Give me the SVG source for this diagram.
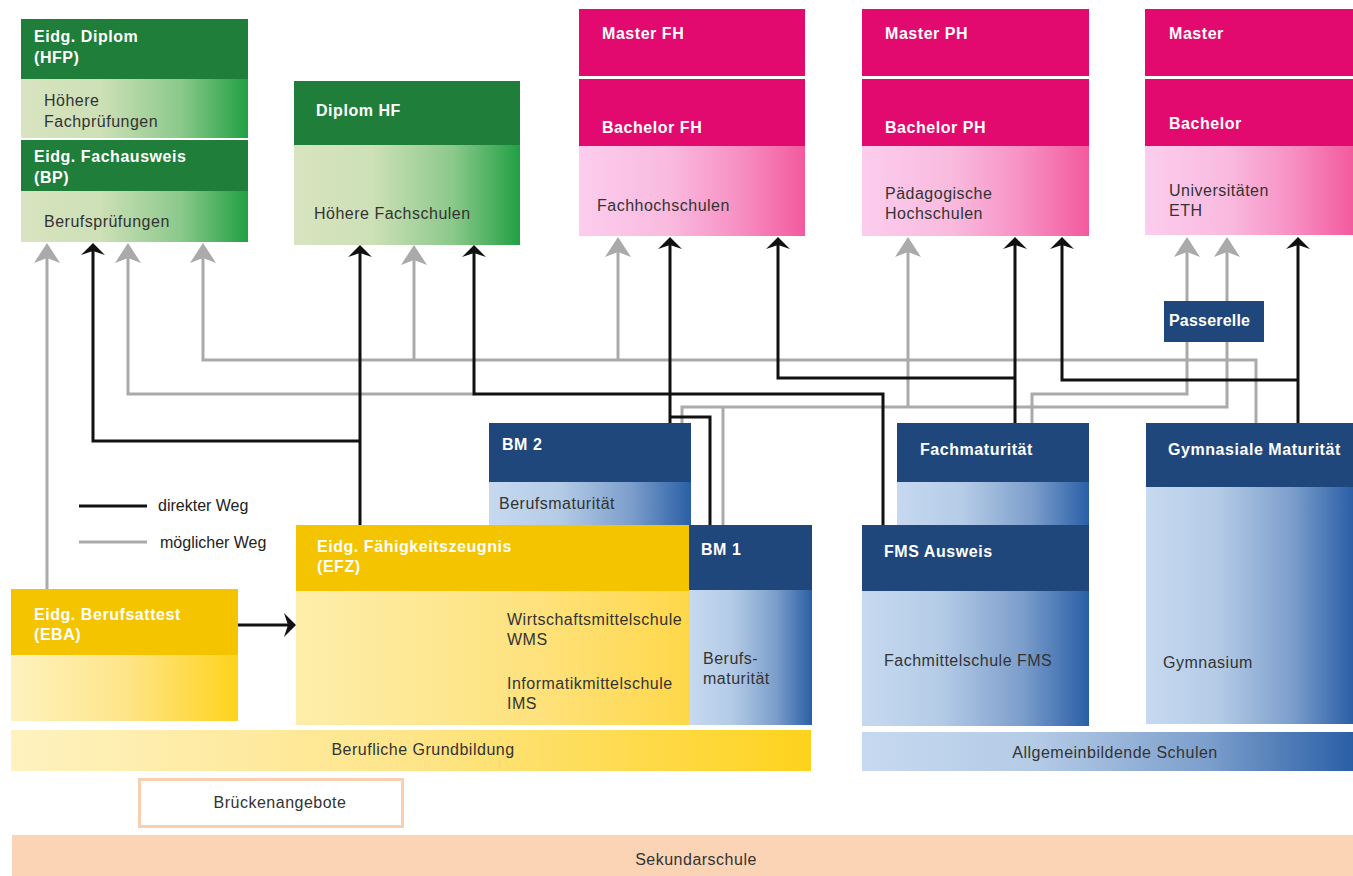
<svg xmlns="http://www.w3.org/2000/svg" width="1353" height="876" viewBox="0 0 1353 876">
<style>
text{font-family:"Liberation Sans",Arial,sans-serif;font-size:16px;letter-spacing:0.5px}
.t{fill:#fff;font-weight:bold;letter-spacing:0.55px}
.b{fill:#333}
.c{text-anchor:middle}
.lg{fill:#222;letter-spacing:0}
.hg{fill:#1f7e3a}.hm{fill:#e20a6e}.hb{fill:#1f477b}.hy{fill:#f5c400}
.gl{fill:none;stroke:#aaa;stroke-width:3}
.bl{fill:none;stroke:#111;stroke-width:3}
.ga{marker-end:url(#ahg)}.ba{marker-end:url(#ahb)}
</style>
<defs>
<linearGradient id="gG"><stop offset="0" stop-color="#d8e4c0"/><stop offset="0.35" stop-color="#cde0b6"/><stop offset="0.7" stop-color="#8cc98b"/><stop offset="1" stop-color="#21a045"/></linearGradient>
<linearGradient id="gP"><stop offset="0" stop-color="#fccdee"/><stop offset="0.4" stop-color="#f9bade"/><stop offset="0.7" stop-color="#f791c4"/><stop offset="1" stop-color="#f35a9e"/></linearGradient>
<linearGradient id="gB"><stop offset="0" stop-color="#c6d9f0"/><stop offset="0.35" stop-color="#b4cbe6"/><stop offset="0.7" stop-color="#7d9fcc"/><stop offset="1" stop-color="#2a5fa6"/></linearGradient>
<linearGradient id="gY"><stop offset="0" stop-color="#fef2bf"/><stop offset="0.5" stop-color="#fee58a"/><stop offset="1" stop-color="#fed31c"/></linearGradient>
<linearGradient id="gY2"><stop offset="0" stop-color="#fdeeab"/><stop offset="0.6" stop-color="#fee27e"/><stop offset="1" stop-color="#fed84a"/></linearGradient>
<marker id="ahb" viewBox="-6 -14 16 28" refX="0" refY="0" markerWidth="16" markerHeight="28" markerUnits="userSpaceOnUse" orient="auto"><path d="M8,0 L-4,-12 L0,0 L-4,12 Z" fill="#111"/></marker>
<marker id="ahg" viewBox="-6 -14 22 28" refX="0" refY="0" markerWidth="22" markerHeight="28" markerUnits="userSpaceOnUse" orient="auto"><path d="M15,0 L-5,-13 L0,0 L-5,13 Z" fill="#aaa"/></marker>
</defs>
<rect width="1353" height="876" fill="#fff"/>

<g id="connectors">
<path class="gl ga" d="M47,589 V258"/>
<path class="gl ga" d="M1256,423 V360 H203 V258"/>
<path class="gl ga" d="M414,360 V260"/>
<path class="gl ga" d="M618,360 V252"/>
<path class="gl ga" d="M474,394 H128 V258"/>
<path class="gl ga" d="M682,423 V407 H1227 V252"/>
<path class="gl" d="M723,525 V407"/>
<path class="gl ga" d="M908,407 V252"/>
<path class="gl ga" d="M1032,423 V394 H1187 V252"/>
<path class="bl ba" d="M360,525 V253"/>
<path class="bl ba" d="M360,441 H93 V251"/>
<path class="bl ba" d="M883,525 V394 H474 V253"/>
<path class="bl ba" d="M670,423 V245"/>
<path class="bl" d="M670,417 H710 V525"/>
<path class="bl ba" d="M1015,423 V245"/>
<path class="bl ba" d="M1015,378 H778 V245"/>
<path class="bl ba" d="M1298,423 V245"/>
<path class="bl ba" d="M1298,380 H1062 V245"/>
<path class="bl ba" d="M238,625 H288"/>
</g>

<g id="hfp">
<rect class="hg" x="21" y="19" width="227" height="60"/>
<rect x="21" y="79" width="227" height="59" fill="url(#gG)"/>
<text class="t" x="34" y="42">Eidg. Diplom</text>
<text class="t" x="34" y="63">(HFP)</text>
<text class="b" x="44" y="106">Höhere</text>
<text class="b" x="44" y="127">Fachprüfungen</text>
</g>
<g id="bp">
<rect class="hg" x="21" y="140" width="227" height="51"/>
<rect x="21" y="191" width="227" height="51" fill="url(#gG)"/>
<text class="t" x="34" y="162">Eidg. Fachausweis</text>
<text class="t" x="34" y="183">(BP)</text>
<text class="b" x="44" y="227">Berufsprüfungen</text>
</g>
<g id="hf">
<rect class="hg" x="294" y="81" width="226" height="64"/>
<rect x="294" y="145" width="226" height="100" fill="url(#gG)"/>
<text class="t" x="316" y="116">Diplom HF</text>
<text class="b" x="314" y="219">Höhere Fachschulen</text>
</g>
<g id="fh">
<rect class="hm" x="579" y="9" width="226" height="67"/>
<rect class="hm" x="579" y="79" width="226" height="67"/>
<rect x="579" y="146" width="226" height="90" fill="url(#gP)"/>
<text class="t" x="602" y="39">Master FH</text>
<text class="t" x="602" y="133">Bachelor FH</text>
<text class="b" x="597" y="211">Fachhochschulen</text>
</g>
<g id="ph">
<rect class="hm" x="862" y="9" width="227" height="67"/>
<rect class="hm" x="862" y="79" width="227" height="67"/>
<rect x="862" y="146" width="227" height="90" fill="url(#gP)"/>
<text class="t" x="885" y="39">Master PH</text>
<text class="t" x="885" y="133">Bachelor PH</text>
<text class="b" x="885" y="199">Pädagogische</text>
<text class="b" x="885" y="219">Hochschulen</text>
</g>
<g id="uni">
<rect class="hm" x="1145" y="9" width="208" height="67"/>
<rect class="hm" x="1145" y="79" width="208" height="67"/>
<rect x="1145" y="146" width="208" height="89" fill="url(#gP)"/>
<text class="t" x="1169" y="39">Master</text>
<text class="t" x="1169" y="129">Bachelor</text>
<text class="b" x="1169" y="196">Universitäten</text>
<text class="b" x="1169" y="216">ETH</text>
</g>
<g id="passerelle">
<rect class="hb" x="1164" y="301" width="100" height="41"/>
<text class="t" x="1169" y="326" style="letter-spacing:0.2px">Passerelle</text>
</g>
<g id="bm2">
<rect class="hb" x="489" y="423" width="202" height="59"/>
<rect x="489" y="482" width="202" height="43" fill="url(#gB)"/>
<text class="t" x="502" y="450">BM 2</text>
<text class="b" x="499" y="509">Berufsmaturität</text>
</g>
<g id="efz">
<rect class="hy" x="296" y="525" width="393" height="66"/>
<rect x="296" y="591" width="393" height="134" fill="url(#gY2)"/>
<text class="t" x="317" y="552">Eidg. Fähigkeitszeugnis</text>
<text class="t" x="317" y="572">(EFZ)</text>
<text class="b" x="507" y="625">Wirtschaftsmittelschule</text>
<text class="b" x="507" y="645">WMS</text>
<text class="b" x="507" y="689">Informatikmittelschule</text>
<text class="b" x="507" y="709">IMS</text>
</g>
<g id="bm1">
<rect class="hb" x="689" y="525" width="123" height="65"/>
<rect x="689" y="590" width="123" height="135" fill="url(#gB)"/>
<text class="t" x="701" y="555">BM 1</text>
<text class="b" x="703" y="664">Berufs-</text>
<text class="b" x="703" y="684">maturität</text>
</g>
<g id="eba">
<rect class="hy" x="11" y="589" width="227" height="66"/>
<rect x="11" y="655" width="227" height="66" fill="url(#gY)"/>
<text class="t" x="34" y="620">Eidg. Berufsattest</text>
<text class="t" x="34" y="640">(EBA)</text>
</g>
<g id="fachmaturitaet">
<rect class="hb" x="897" y="423" width="192" height="59"/>
<rect x="897" y="482" width="192" height="43" fill="url(#gB)"/>
<text class="t" x="920" y="455">Fachmaturität</text>
</g>
<g id="fms">
<rect class="hb" x="862" y="525" width="227" height="66"/>
<rect x="862" y="591" width="227" height="135" fill="url(#gB)"/>
<text class="t" x="884" y="557">FMS Ausweis</text>
<text class="b" x="884" y="666">Fachmittelschule FMS</text>
</g>
<g id="gymnasium">
<rect class="hb" x="1146" y="423" width="207" height="64"/>
<rect x="1146" y="487" width="207" height="237" fill="url(#gB)"/>
<text class="t" x="1168" y="455">Gymnasiale Maturität</text>
<text class="b" x="1163" y="668">Gymnasium</text>
</g>
<g id="grundbildung">
<rect x="11" y="730" width="800" height="41" fill="url(#gY)"/>
<text class="b c" x="423" y="755">Berufliche Grundbildung</text>
</g>
<g id="allgemein">
<rect x="862" y="732" width="491" height="39" fill="url(#gB)"/>
<text class="b c" x="1115" y="758">Allgemeinbildende Schulen</text>
</g>
<g id="bruecken">
<rect x="139.5" y="779.5" width="263" height="47" fill="#fff" stroke="#f9cfb0" stroke-width="3"/>
<text class="b c" x="280" y="808">Brückenangebote</text>
</g>
<g id="sekundar">
<rect x="12" y="835" width="1341" height="41" fill="#fbd4b6"/>
<text class="b c" x="696" y="865">Sekundarschule</text>
</g>
<g id="legend">
<line x1="79" y1="506" x2="147" y2="506" stroke="#111" stroke-width="3"/>
<text class="lg" x="158" y="511">direkter Weg</text>
<line x1="79" y1="542" x2="147" y2="542" stroke="#aaa" stroke-width="3"/>
<text class="lg" x="160" y="548">möglicher Weg</text>
</g>
</svg>
